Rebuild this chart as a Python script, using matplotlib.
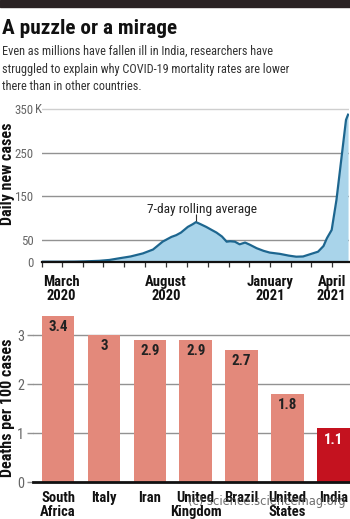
import matplotlib
matplotlib.use("Agg")
import matplotlib.pyplot as plt
from matplotlib.patches import Rectangle
import pandas as pd
import numpy as np

plt.rcParams['font.family'] = ['Roboto Condensed', 'DejaVu Sans']

# ---------------- data ----------------
case_dates = ["2020-02-01", "2020-03-01", "2020-03-20", "2020-04-05", "2020-04-25",
              "2020-05-10", "2020-05-25", "2020-06-10", "2020-06-28", "2020-07-13",
              "2020-07-27", "2020-08-03", "2020-08-09", "2020-08-16", "2020-08-23",
              "2020-09-02", "2020-09-09", "2020-09-14", "2020-09-21", "2020-09-29",
              "2020-10-07", "2020-10-14", "2020-10-22", "2020-10-29", "2020-11-03",
              "2020-11-10", "2020-11-17", "2020-11-25", "2020-12-02", "2020-12-12",
              "2020-12-22", "2020-12-31", "2021-01-15", "2021-01-28", "2021-02-08",
              "2021-02-18", "2021-02-28", "2021-03-12", "2021-03-20", "2021-03-25",
              "2021-04-01", "2021-04-08", "2021-04-15", "2021-04-22", "2021-04-25"]
cases_k = [0, 0, 0.2, 0.8, 2,
           4, 8, 12, 19, 28,
           46, 52, 57, 61, 67,
           80, 86, 91, 86, 80,
           73, 67, 58, 46, 47,
           46, 40, 44, 39, 31,
           25, 21, 18, 14, 11.5,
           12, 17, 23, 36, 54,
           73, 142, 234, 326, 338]

countries = ["South\nAfrica", "Italy", "Iran", "United\nKingdom", "Brazil", "United\nStates", "India"]
deaths_per_100 = [3.4, 3.0, 2.9, 2.9, 2.7, 1.8, 1.1]
death_labels = ["3.4", "3", "2.9", "2.9", "2.7", "1.8", "1.1"]

top_yticks = [0, 50, 150, 250, 350]
top_ytick_labels = ["0", "50", "150", "250", "350"]
month_labels = {"2020-03": "March\n2020", "2020-08": "August\n2020",
                "2021-01": "January\n2021", "2021-04": "April\n2021"}
bottom_yticks = [0, 1, 2, 3]

# ---------------- styling ----------------
W, H = 350, 519
fig = plt.figure(figsize=(W / 100, H / 100), dpi=100)
fig.patch.set_facecolor("white")

def fx(px):
    return px / W

def fy(py):
    return 1 - py / H

LINE = "#1d668f"
FILL = "#a9d4ea"
SALMON = "#e3897b"
RED = "#c4121f"
GRID = "#929292"
TICKC = "#666666"

# top dark band
fig.patches.append(Rectangle((0, fy(7)), 1, 7 / H, transform=fig.transFigure,
                             color="#2a2223", zorder=0))

fig.text(fx(1.5), fy(33.5), "A puzzle or a mirage", fontsize=15.3, fontweight="bold",
         color="#111111", va="baseline", ha="left")
subtitle = ["Even as millions have fallen ill in India, researchers have",
            "struggled to explain why COVID-19 mortality rates are lower",
            "there than in other countries."]
for i, line in enumerate(subtitle):
    fig.text(fx(2), fy(55 + 17.6 * i), line, fontsize=8.85, color="#333333",
             va="baseline", ha="left")

# ---------------- top chart ----------------
d = pd.to_datetime(case_dates)
v = np.array(cases_k)
ax1 = fig.add_axes([fx(41.9), fy(261.7), fx(349) - fx(41.9), fy(105.1) - fy(261.7)])
ax1.fill_between(d, 0, v, color=FILL, lw=0, zorder=2)
ax1.plot(d, v, color=LINE, lw=1.6, zorder=3, solid_joinstyle="round")
ax1.set_ylim(0, 360)
ax1.set_xlim(pd.Timestamp("2020-02-01"), pd.Timestamp("2020-02-01") + pd.Timedelta(days=450.4))
for y in top_yticks[1:]:
    ax1.axhline(y, color="#cfcfcf" if y == 350 else GRID, lw=1, zorder=1)
for s in ["top", "right", "left"]:
    ax1.spines[s].set_visible(False)
ax1.spines["bottom"].set_color("#111111")
ax1.spines["bottom"].set_linewidth(1.6)
ax1.spines["bottom"].set_zorder(4)
ax1.set_yticks(top_yticks)
ax1.set_yticklabels(top_ytick_labels)
ax1.tick_params(axis="y", length=0, pad=6, labelsize=9.3, labelcolor=TICKC)
ax1.text(-7.4 / 307.1, 350, "K", transform=ax1.get_yaxis_transform(), ha="left",
         va="center", fontsize=9.3, color=TICKC)
months = pd.date_range("2020-02-01", "2021-04-01", freq="MS")
ax1.set_xticks(months)
ax1.set_xticklabels([month_labels.get(m.strftime("%Y-%m"), "") for m in months])
ax1.tick_params(axis="x", length=3.5, width=0.9, color="#333333", pad=6,
                labelsize=10.5, labelcolor="#111111")
for t in ax1.get_xticklabels():
    t.set_fontweight("bold")
    t.set_linespacing(1.0)
fig.text(fx(7.5), fy(173.5), "Daily new cases", rotation=90, ha="center", va="center",
         fontsize=11.5, fontweight="bold", color="#111111")

pk = int(np.argmax(v[:30]))
ax1.vlines(d[pk], v[pk] + 2, v[pk] + 19, color="#333333", lw=0.8, zorder=4)
ax1.text(d[pk] + pd.Timedelta(days=8.5), v[pk] + 28, "7-day rolling average", ha="center",
         va="center", fontsize=9.6, color="#222222", zorder=5)

# ---------------- bottom chart ----------------
ax2 = fig.add_axes([fx(33), fy(482.3), 1 - fx(33), fy(310.8) - fy(482.3)])
x = np.arange(len(countries))
colors = [SALMON] * (len(countries) - 1) + [RED]
ax2.bar(x, deaths_per_100, width=0.71, color=colors, zorder=2)
ax2.set_xlim(-0.545, 6.36)
ax2.set_ylim(0, 3.5)
for y in bottom_yticks[1:]:
    ax2.axhline(y, color=GRID, lw=1, zorder=1)
for s in ["top", "right", "left"]:
    ax2.spines[s].set_visible(False)
ax2.spines["bottom"].set_color("#111111")
ax2.spines["bottom"].set_linewidth(2)
ax2.spines["bottom"].set_zorder(4)
ax2.set_yticks(bottom_yticks)
ax2.tick_params(axis="y", length=4, width=1, color=GRID, pad=2.5, labelsize=10.3,
                labelcolor=TICKC)
ax2.set_xticks(x)
ax2.set_xticklabels(countries)
ax2.tick_params(axis="x", length=0, pad=6, labelsize=10.5, labelcolor="#111111")
for t in ax2.get_xticklabels():
    t.set_fontweight("bold")
    t.set_linespacing(1.0)
for xi, val, lab, c in zip(x, deaths_per_100, death_labels, colors):
    ax2.annotate(lab, (xi, val), xytext=(0, -3), textcoords="offset points",
                 ha="center", va="top", fontsize=10.8, fontweight="bold",
                 color="white" if c == RED else "#222222", zorder=5)
fig.text(fx(7.5), fy(407.5), "Deaths per 100 cases", rotation=90, ha="center", va="center",
         fontsize=11.5, fontweight="bold", color="#111111")

fig.text(fx(267), fy(501), "(c) science.sciencemag.org", fontsize=8.3,
         family="DejaVu Sans", color="#555555", ha="center", va="center", alpha=0.85)

fig.savefig("out.png", dpi=100)
